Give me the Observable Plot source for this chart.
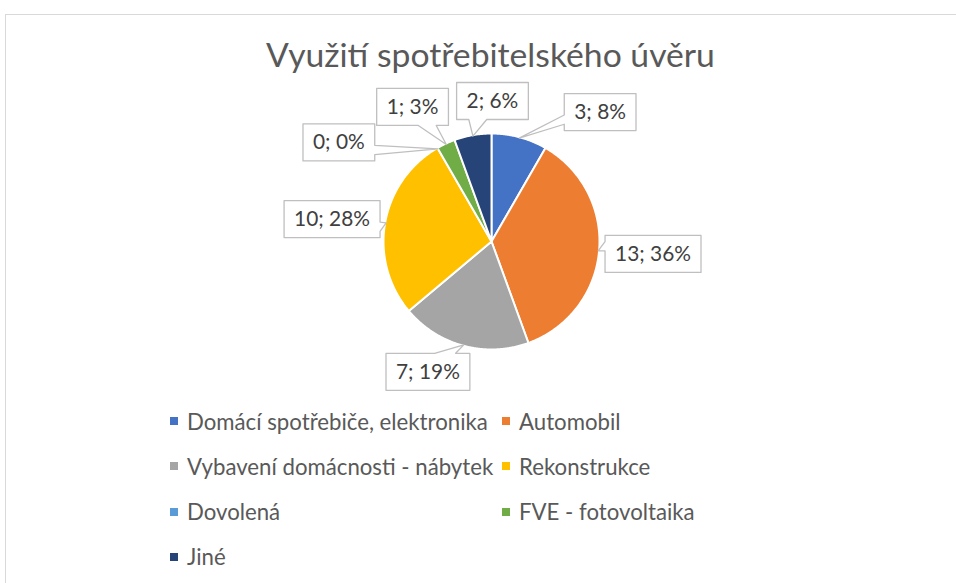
<!DOCTYPE html>
<html>
<head>
<meta charset="utf-8">
<script src="https://cdn.jsdelivr.net/npm/d3@7"></script>
<script src="https://cdn.jsdelivr.net/npm/@observablehq/plot@0.6"></script>
<style>
  html, body { margin: 0; padding: 0; background: #fff; }
  #wrap { position: relative; width: 956px; height: 583px; overflow: hidden; font-family: Lato, "Open Sans", sans-serif; }
  #frame { position: absolute; left: 5px; top: 14px; width: 1000px; height: 700px; border: 1.5px solid #d9d9d9; box-sizing: border-box; }
  #title { position: absolute; left: 0; width: 981px; text-align: center; color: #595959; white-space: nowrap; line-height: 1; margin: 0; font-weight: normal; }
  .leg { position: absolute; display: flex; align-items: center; height: 30px; color: #595959; white-space: nowrap; }
  .sw { width: 8px; height: 8px; margin-right: 9px; flex: none; }
</style>
</head>
<body>
<div id="wrap">
  <div id="frame"></div>
  <h2 id="title">Využití spotřebitelského úvěru</h2>
</div>
<script>
// ---- data ----
const categories = [
  "Domácí spotřebiče, elektronika",
  "Automobil",
  "Vybavení domácnosti - nábytek",
  "Rekonstrukce",
  "Dovolená",
  "FVE - fotovoltaika",
  "Jiné"
];
const counts = [3, 13, 7, 10, 0, 1, 2];
const colors = ["#4472C4", "#ED7D31", "#A5A5A5", "#FFC000", "#5B9BD5", "#70AD47", "#264478"];

// ---- layout (annotation placement, not data) ----
// label box centre: angle (deg, clockwise from top) and distance from pie centre
const labelAngle = [40, 94.4, 206, 278, 303, 329.6, 0.4];
const labelDist  = [169, 162, 145, 161, 182, 156, 140.5];

const FONT = 'Lato, "Open Sans", sans-serif';
const ctx = document.createElement("canvas").getContext("2d");
function measure(text, size) { ctx.font = `${size}px ${FONT}`; return ctx.measureText(text).width; }
function fit(text, target) { return 40 * target / measure(text, 40); }

// title
const title = document.getElementById("title");
const titleSize = fit("Využití spotřebitelského úvěru", 449);
title.style.fontSize = titleSize + "px";
title.style.top = (71 - titleSize * 0.98) + "px";

// pie geometry
const R = 108;
const total = d3.sum(counts);
const slices = [];
let cum = 0;
categories.forEach((cat, i) => {
  const a0 = cum / total * 2 * Math.PI;
  cum += counts[i];
  const a1 = cum / total * 2 * Math.PI;
  slices.push({cat, count: counts[i], a0, a1, mid: (a0 + a1) / 2});
});

const slicePts = [];
for (const s of slices) {
  if (s.count === 0) continue;
  slicePts.push({cat: s.cat, x: 0, y: 0});
  const n = Math.max(2, Math.ceil((s.a1 - s.a0) / (Math.PI / 360)));
  for (let k = 0; k <= n; k++) {
    const a = s.a0 + (s.a1 - s.a0) * k / n;
    slicePts.push({cat: s.cat, x: R * Math.sin(a), y: -R * Math.cos(a)});
  }
}

// labels
const labelSize = fit("10; 28%", 76);
const BOX_H = 37, PAD = 10;
function callout(bx, by, w, h, tx, ty) {
  const x0 = bx - w / 2, x1 = bx + w / 2, y0 = by - h / 2, y1 = by + h / 2;
  const dx = tx - bx, dy = ty - by;
  let side;
  if (Math.abs(dx) / (w / 2) > Math.abs(dy) / (h / 2)) side = dx < 0 ? "left" : "right";
  else side = dy < 0 ? "top" : "bottom";
  const fr = d => d < 0 ? [0.17, 0.42] : [0.58, 0.83];
  const p = [[x0, y0]];
  if (side === "top") { const [a, b] = fr(dx); p.push([x0 + a * w, y0], [tx, ty], [x0 + b * w, y0]); }
  p.push([x1, y0]);
  if (side === "right") { const [a, b] = fr(dy); p.push([x1, y0 + a * h], [tx, ty], [x1, y0 + b * h]); }
  p.push([x1, y1]);
  if (side === "bottom") { const [a, b] = fr(dx); p.push([x0 + b * w, y1], [tx, ty], [x0 + a * w, y1]); }
  p.push([x0, y1]);
  if (side === "left") { const [a, b] = fr(dy); p.push([x0, y0 + b * h], [tx, ty], [x0, y0 + a * h]); }
  return p;
}
const labels = [];
const calloutPts = [];
slices.forEach((s, i) => {
  const text = `${s.count}; ${Math.round(s.count / total * 100)}%`;
  const ang = labelAngle[i] * Math.PI / 180;
  const bx = labelDist[i] * Math.sin(ang), by = -labelDist[i] * Math.cos(ang);
  const tx = (R - 1) * Math.sin(s.mid), ty = -(R - 1) * Math.cos(s.mid);
  const w = measure(text, labelSize) + 2 * PAD;
  labels.push({cat: s.cat, text, x: bx, y: by});
  for (const [x, y] of callout(bx, by, w, BOX_H, tx, ty)) calloutPts.push({cat: s.cat, x, y});
});

const W = 956, H = 320, CX = 491, CY = 161;
const chart = Plot.plot({
  width: W, height: H,
  margin: 0,
  x: {domain: [-CX, W - CX], range: [0, W], axis: null},
  y: {domain: [-CY, H - CY], range: [0, H], axis: null},
  color: {domain: categories, range: colors},
  marks: [
    Plot.line(slicePts, {x: "x", y: "y", z: "cat", fill: "cat", stroke: "white", strokeWidth: 2, curve: "linear-closed"}),
    Plot.line(calloutPts, {x: "x", y: "y", z: "cat", fill: "white", stroke: "#bfbfbf", strokeWidth: 1.3, curve: "linear-closed"}),
    Plot.text(labels, {x: "x", y: "y", text: "text", fill: "#404040", fontSize: labelSize, fontFamily: FONT})
  ]
});
chart.style.position = "absolute";
chart.style.left = "0px";
chart.style.top = "80px";
chart.style.background = "transparent";
document.getElementById("wrap").appendChild(chart);

// legend
const legSize = fit("Domácí spotřebiče, elektronika", 301);
const wrap = document.getElementById("wrap");
categories.forEach((cat, i) => {
  const row = Math.floor(i / 2), col = i % 2;
  const d = document.createElement("div");
  d.className = "leg";
  d.style.left = (col ? 502 : 170) + "px";
  d.style.top = (421 + row * 45.3 - 15) + "px";
  d.style.fontSize = legSize + "px";
  const sw = document.createElement("span");
  sw.className = "sw";
  sw.style.background = colors[i];
  const t = document.createElement("span");
  t.textContent = cat;
  d.appendChild(sw); d.appendChild(t);
  wrap.appendChild(d);
});
</script>
</body>
</html>
